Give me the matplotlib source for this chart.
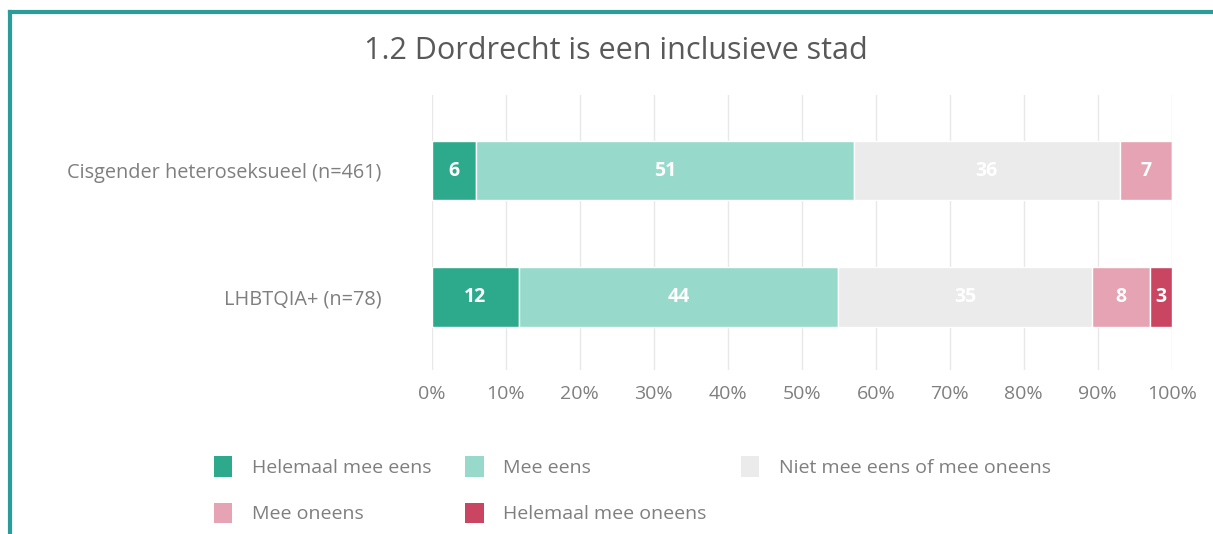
import numpy as np
import matplotlib.pyplot as plt
from matplotlib.lines import Line2D
from matplotlib.patches import Patch

plt.rcParams['font.family'] = ['Open Sans', 'DejaVu Sans']

groups = ["Cisgender heteroseksueel (n=461)", "LHBTQIA+ (n=78)"]
answers = ["Helemaal mee eens", "Mee eens", "Niet mee eens of mee oneens",
           "Mee oneens", "Helemaal mee oneens"]
cis = [6, 51, 36, 7, 0]
lhbt = [12, 44, 35, 8, 3]
colors = ["#2DAA8C", "#97DACB", "#EBEBEB", "#E6A3B3", "#C94562"]
ticks = np.arange(0, 101, 10)

values = np.array([cis, lhbt], dtype=float)
# 100% stacked: each row scaled by its own total
shares = values / values.sum(axis=1, keepdims=True) * 100

fig = plt.figure(figsize=(12.13, 5.34), dpi=100)
ax = fig.add_axes([0.356, 0.307, 0.61, 0.515])

y = np.arange(len(groups))
left = np.zeros(len(groups))
for i, ans in enumerate(answers):
    ax.barh(y, shares[:, i], left=left, height=0.47, color=colors[i],
            edgecolor="white", linewidth=1, label=ans, zorder=3)
    for j in range(len(groups)):
        if values[j, i] > 0:
            ax.text(left[j] + shares[j, i] / 2, y[j], f"{values[j, i]:.0f}",
                    ha="center", va="center", color="white",
                    fontsize=14, fontweight="bold", zorder=4)
    left += shares[:, i]

ax.set_xlim(0, 100)
ax.set_ylim(1.58, -0.6)
ax.set_xticks(ticks)
ax.set_xticklabels([f"{t}%" for t in ticks])
ax.set_yticks(y)
ax.set_yticklabels(groups)
ax.tick_params(length=0, colors="#7F7F7F", labelsize=14)
ax.tick_params(axis="y", labelsize=14.3, pad=36)
ax.tick_params(axis="x", pad=11)
ax.grid(axis="x", color="#E8E8E8", linewidth=1, zorder=0)
for s in ax.spines.values():
    s.set_visible(False)

fig.text(0.508, 0.905, "1.2 Dordrecht is een inclusieve stad", ha="center",
         va="center", fontsize=22, color="#595959")

# legend laid out in three columns, filled column by column
order = [0, 3, 1, 4, 2]
handles = [Patch(facecolor=colors[k], edgecolor="none") for k in order]
fig.legend(handles, [answers[k] for k in order], ncol=3,
           loc="upper left", bbox_to_anchor=(0.162, 0.178),
           frameon=False, fontsize=14, labelcolor="#7F7F7F",
           handlelength=0.95, handleheight=1.25, handletextpad=1.0,
           columnspacing=1.75, labelspacing=1.3)

# teal frame along top and left edge
fig.add_artist(Line2D([0.0085, 1.0], [0.978, 0.978], color="#2A9D9A",
                      linewidth=3, transform=fig.transFigure))
fig.add_artist(Line2D([0.0085, 0.0085], [0.0, 0.978], color="#2A9D9A",
                      linewidth=3, transform=fig.transFigure))

fig.savefig("out.png", dpi=100)
